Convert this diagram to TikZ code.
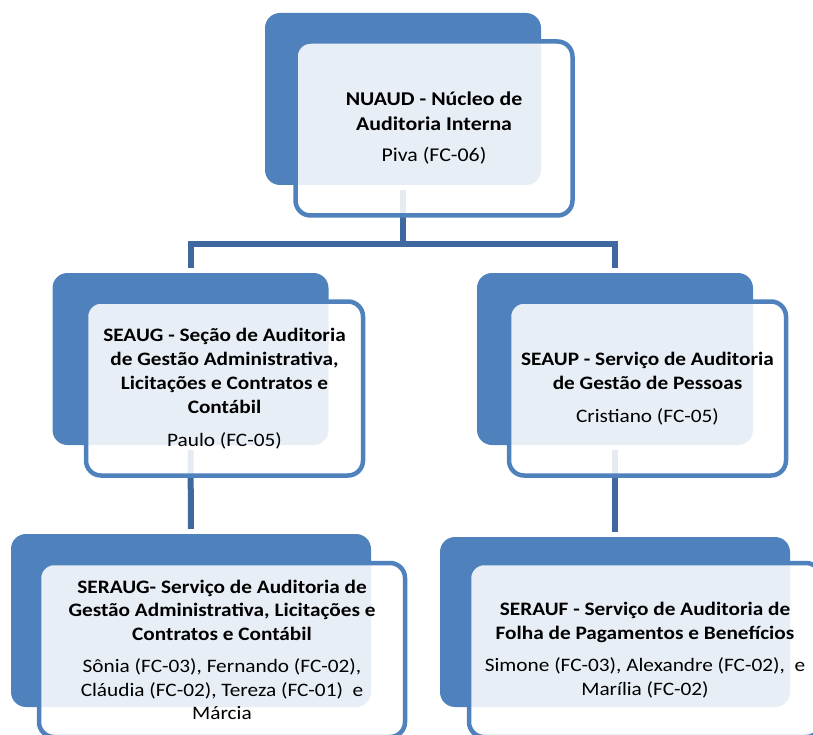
\documentclass[tikz,border=0pt]{standalone}
\usepackage{fontspec}
\setmainfont{Carlito}[FakeStretch=1.12]
\usepackage{xcolor}
\usepackage{tikz}
\usetikzlibrary{positioning}
\definecolor{BoxBlue}{HTML}{4F81BD}
\definecolor{LinkBlue}{HTML}{3E689F}

\begin{document}
\begin{tikzpicture}[
  x=1pt, y=-1pt,
  back/.style={rectangle, rounded corners=15pt, fill=BoxBlue,
    minimum width=276pt, minimum height=172pt, inner sep=0pt},
  front/.style={rectangle, rounded corners=15pt, draw=BoxBlue, line width=4.5pt,
    fill=white, fill opacity=0.87, text opacity=1, align=center,
    minimum width=277pt, minimum height=174pt,
    font=\fontsize{19}{23.5}\selectfont},
  link/.style={line width=6pt, color=LinkBlue, shorten <=5pt, shorten >=5pt}
]
\useasboundingbox (0,0) rectangle (813,735);

% Back panels
\node[back] (nuaudB) at (403,99) {};
\node[back] (seaugB) at (190.5,359) {};
\node[back] (seaupB) at (615,359) {};
\node[back, minimum width=360pt, minimum height=173pt] (seraugB) at (191,620.5) {};
\node[back, minimum width=350pt, minimum height=170pt] (seraufB) at (615,622) {};

% Connectors
\draw[link] (nuaudB.south) -- ++(0,59) -| (seaugB.north);
\draw[link] (nuaudB.south) -- ++(0,59) -| (seaupB.north);
\draw[link] (seaugB.south) -- (seraugB.north);
\draw[link] (seaupB.south) -- (seraufB.north);

% Front panels
\node[front, font=\fontsize{19.5}{24.5}\selectfont] (nuaud) at (434,128.5)
  {\textbf{NUAUD - Núcleo de}\\ \textbf{Auditoria Interna}\\[7pt] Piva (FC-06)};
\node[front, font=\fontsize{19}{24}\selectfont] (seaug) at (224.5,388.5)
  {\textbf{SEAUG - Seção de Auditoria}\\ \textbf{de Gestão Administrativa,}\\
   \textbf{Licitações e Contratos e}\\ \textbf{Contábil}\\[9pt] Paulo (FC-05)};
\node[front, font=\fontsize{19}{24}\selectfont] (seaup) at (647.5,388.5)
  {\textbf{SEAUP - Serviço de Auditoria}\\ \textbf{de Gestão de Pessoas}\\[9pt]
   Cristiano (FC-05)};
\node[front, minimum width=366pt] (seraug) at (222,650)
  {\textbf{SERAUG- Serviço de Auditoria de}\\
   \textbf{Gestão Administrativa, Licitações e}\\
   \textbf{Contratos e Contábil}\\[9pt]
   Sônia (FC-03), Fernando (FC-02),\\ Cláudia (FC-02), Tereza (FC-01)~~e\\ Márcia};
\node[front, minimum width=352pt] (serauf) at (645,650)
  {\textbf{SERAUF - Serviço de Auditoria de}\\
   \textbf{Folha de Pagamentos e Benefícios}\\[9pt]
   Simone (FC-03), Alexandre (FC-02),~~e\\ Marília (FC-02)};

\end{tikzpicture}
\end{document}
